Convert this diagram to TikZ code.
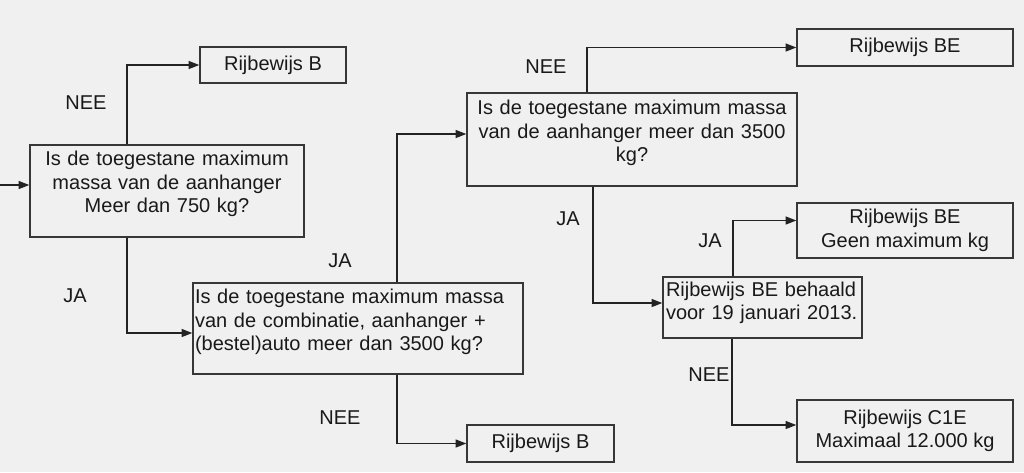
\documentclass[tikz,border=0pt]{standalone}
\usepackage{fontspec}
\setmainfont{Liberation Sans}
\usetikzlibrary{calc, arrows.meta}
\definecolor{bgGray}{RGB}{240,240,240}
\definecolor{lineCol}{RGB}{35,35,35}
\definecolor{boxCol}{RGB}{55,55,55}
\definecolor{textCol}{RGB}{25,25,25}
\tikzset{
    box/.style={rectangle, draw=boxCol, line width=1.1pt, inner sep=0pt, text=textCol, align=center},
    qbox/.style={box, align=left},
    conn/.style={draw=lineCol, line width=1pt, -{Triangle[length=8pt, width=6pt]}},
    lbl/.style={text=textCol, inner sep=0pt},
    common settings/.style={
        x=0.75pt, y=-0.75pt,
        font=\fontsize{15}{17.6}\selectfont
    }
}

\begin{document}
\begin{tikzpicture}[common settings]

    % Canvas (pixel grid, y pointing down)
    \fill[bgGray] (0,0) rectangle (1024,472);
    \useasboundingbox (0,0) rectangle (1024,472);

    % 1. Question boxes
    \node[box, minimum width=205.5pt, minimum height=69pt, text width=200pt, text depth=48.5pt]
        (vraag750) at (167,191) {Is de toegestane maximum\\massa van de aanhanger\\Meer dan 750 kg?};
    \node[qbox, minimum width=247.5pt, minimum height=68.25pt, text width=244.5pt, text depth=48pt]
        (vraagCombi) at (358,328.5) {Is de toegestane maximum massa\\van de combinatie, aanhanger +\\(bestel)auto meer dan 3500 kg?};
    \node[box, minimum width=247.5pt, minimum height=69.75pt, text width=242pt, text depth=48pt]
        (vraag3500) at (632,139.5) {Is de toegestane maximum massa\\van de aanhanger meer dan 3500\\kg?};
    \node[qbox, minimum width=149.25pt, minimum height=45.75pt, text width=144.75pt, text depth=28pt]
        (behaald) at (762.5,307.5) {Rijbewijs BE behaald\\voor 19 januari 2013.};

    % 2. Result boxes
    \node[box, minimum width=109.5pt, minimum height=27pt] (rbB) at (273,65) {Rijbewijs B};
    \node[box, minimum width=110.25pt, minimum height=27.75pt] (rbB2) at (540.5,443.5) {Rijbewijs B};
    \node[box, minimum width=162pt, minimum height=27.75pt] (rbBE) at (905,47.5) {Rijbewijs BE};
    \node[box, minimum width=162pt, minimum height=41.25pt] (rbBEgeen) at (905,230.5) {Rijbewijs BE\\Geen maximum kg};
    \node[box, minimum width=162pt, minimum height=46.5pt] (rbC1E) at (905,431) {Rijbewijs C1E\\Maximaal 12.000 kg};

    % 3. Connectors
    \coordinate (start) at (0,185);
    \draw[conn] (start) -- (start -| vraag750.west);
    \draw[conn] ($(vraag750.north)+(-40,0)$) |- (rbB.west);
    \draw[conn] ($(vraag750.south)+(-40,0)$) |- ($(vraagCombi.west)+(0,4.5)$);
    \draw[conn] ($(vraagCombi.north)+(39,0)$) |- ($(vraag3500.west)+(0,-5.5)$);
    \draw[conn] ($(vraagCombi.south)+(39,0)$) |- (rbB2.west);
    \draw[conn] ($(vraag3500.north)+(-45,0)$) |- (rbBE.west);
    \draw[conn] ($(vraag3500.south)+(-39,0)$) |- ($(behaald.west)+(0,-4.5)$);
    \draw[conn] ($(behaald.north)+(-29.5,0)$) |- ($(rbBEgeen.west)+(0,-10)$);
    \draw[conn] ($(behaald.south)+(-30.5,0)$) |- ($(rbC1E.west)+(0,-6)$);

    % 4. Branch labels
    \node[lbl] (nee750) at (86,103) {NEE};
    \node[lbl] (ja750) at (75,296) {JA};
    \node[lbl] (jaCombi) at (340,261) {JA};
    \node[lbl] (neeCombi) at (340,418) {NEE};
    \node[lbl] (nee3500) at (546,67) {NEE};
    \node[lbl] (ja3500) at (568,219) {JA};
    \node[lbl] (jaBehaald) at (710,241) {JA};
    \node[lbl] (neeBehaald) at (709,375) {NEE};

\end{tikzpicture}
\end{document}
